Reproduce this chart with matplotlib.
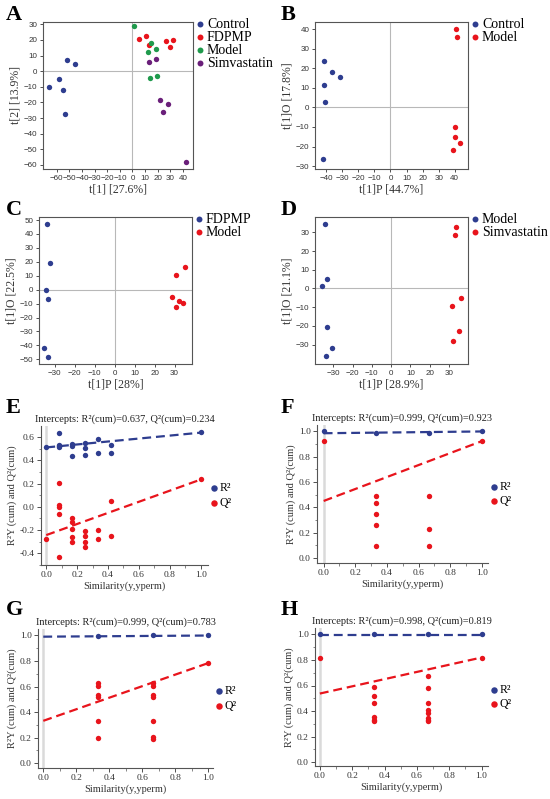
import matplotlib
matplotlib.use("Agg")
import matplotlib.pyplot as plt
from matplotlib.ticker import MultipleLocator, FormatStrFormatter

# ---- colours ----
BLUE = "#2e3d8f"
RED = "#e8141c"
GREEN = "#1f9a4c"
PURPLE = "#6a1f7a"

# ---- A: PCA ----
a_control_x = [-66, -58.4, -55.3, -51.8, -53.4, -45.8]
a_control_y = [-10.4, -4.7, -12.3, 7.0, -27.2, 4.5]
a_fdpmp_x = [5, 11, 12.9, 26.3, 32.4, 29.7]
a_fdpmp_y = [20.9, 22.6, 17, 19.4, 20, 15.5]
a_model_x = [1.1, 15, 12.6, 18.4, 13.9, 19.7]
a_model_y = [28.7, 18.3, 12.1, 14.3, -4.3, -3.2]
a_simva_x = [12.9, 18.7, 21.6, 27.9, 24.5, 42.4]
a_simva_y = [6.2, 7.7, -18.3, -21.1, -26.2, -58.3]

# ---- B: OPLS-DA Control vs Model ----
b_control_x = [-41.7, -36.7, -31.7, -41.7, -40.6, -42.3]
b_control_y = [24, 17.9, 15.8, 11.7, 2.6, -26.6]
b_model_x = [40.6, 41.3, 40.2, 40.2, 43.5, 39]
b_model_y = [40, 36.1, -10.2, -15.1, -18, -22]

# ---- C: FDPMP vs Model ----
c_fdpmp_x = [-33.7, -32.3, -34.5, -33.3, -35.5, -33.2]
c_fdpmp_y = [47.4, 19, 0, -6.7, -41.6, -48.1]
c_model_x = [35, 30.8, 28.7, 32.3, 34, 30.5]
c_model_y = [16.3, 10.6, -5.5, -7.9, -9.6, -12.7]

# ---- D: Model vs Simvastatin ----
d_model_x = [-34.3, -33.3, -35.7, -33.1, -30.8, -33.6]
d_model_y = [34.6, 5.2, 1.4, -20.4, -32.1, -36.3]
d_simva_x = [33.8, 33.3, 36.4, 31.7, 35.2, 32.2]
d_simva_y = [33, 28.6, -5, -9.6, -22.5, -28.2]

# ---- E-H: permutation tests ----
e_r2_x = [0, 0.083, 0.083, 0.083, 0.083, 0.167, 0.167, 0.167, 0.25, 0.25, 0.25, 0.333, 0.333, 0.417, 0.417, 1.0]
e_r2_y = [0.514, 0.63, 0.53, 0.52, 0.51, 0.537, 0.523, 0.437, 0.551, 0.503, 0.443, 0.58, 0.466, 0.534, 0.466, 0.64]
e_q2_x = [0, 0.083, 0.083, 0.083, 0.083, 0.083, 0.167, 0.167, 0.167, 0.167, 0.167,
          0.25, 0.25, 0.25, 0.25, 0.333, 0.333, 0.417, 0.417, 1.0]
e_q2_y = [-0.277, 0.206, 0.014, -0.003, -0.066, -0.434, -0.094, -0.129, -0.194, -0.257, -0.3,
          -0.211, -0.249, -0.303, -0.349, -0.203, -0.28, 0.049, -0.254, 0.237]
e_r2_line = [0.51, 0.637]
e_q2_line = [-0.243, 0.234]

f_r2_x = [0, 0.333, 0.667, 1.0]
f_r2_y = [1.0, 0.99, 0.99, 1.0]
f_q2_x = [0, 0.333, 0.333, 0.333, 0.333, 0.333, 0.667, 0.667, 0.667, 1.0]
f_q2_y = [0.926, 0.489, 0.432, 0.35, 0.258, 0.092, 0.489, 0.232, 0.092, 0.923]
f_r2_line = [0.985, 0.999]
f_q2_line = [0.45, 0.923]

g_r2_x = [0.333, 0.667, 1.0]
g_r2_y = [0.995, 1.0, 1.0]
g_q2_x = [0.333, 0.333, 0.333, 0.333, 0.333, 0.333, 0.667, 0.667, 0.667, 0.667, 0.667, 0.667, 0.667, 1.0]
g_q2_y = [0.629, 0.608, 0.533, 0.517, 0.334, 0.196, 0.629, 0.608, 0.533, 0.517, 0.334, 0.206, 0.193, 0.783]
g_r2_line = [0.99, 0.999]
g_q2_line = [0.332, 0.783]

h_r2_x = [0, 0.333, 0.667, 1.0]
h_r2_y = [1.0, 1.0, 1.0, 1.0]
h_q2_x = [0, 0.333, 0.333, 0.333, 0.333, 0.333, 0.333,
          0.667, 0.667, 0.667, 0.667, 0.667, 0.667, 0.667, 0.667, 1.0]
h_q2_y = [0.819, 0.587, 0.517, 0.465, 0.351, 0.333, 0.32,
          0.677, 0.584, 0.465, 0.408, 0.388, 0.349, 0.331, 0.32, 0.819]
h_r2_line = [0.998, 0.998]
h_q2_line = [0.537, 0.819]

SERIF = "Liberation Serif"
SANS = "Liberation Sans"
W, H = 550, 799

fig = plt.figure(figsize=(5.5, 7.99), dpi=100)


def box(l, r, t, b):
    return [l / W, 1 - b / H, (r - l) / W, (b - t) / H]


def letter(x, y, s):
    fig.text(x / W, 1 - y / H, s, fontsize=16, fontweight="bold", family=SERIF, va="center", ha="left")


def score_ax(rect, groups, xlim, ylim, xt, yt, xlabel, ylabel):
    ax = fig.add_axes(rect)
    ax.axhline(0, color="#b8b8b8", lw=0.8, zorder=0)
    ax.axvline(0, color="#b8b8b8", lw=0.8, zorder=0)
    for xs, ys, c, lab in groups:
        ax.scatter(xs, ys, s=15, color=c, label=lab, zorder=3, linewidths=0)
    ax.set_xlim(xlim)
    ax.set_ylim(ylim)
    ax.set_xticks(xt)
    ax.set_yticks(yt)
    for sp in ax.spines.values():
        sp.set_color("#555555")
        sp.set_linewidth(0.8)
    ax.tick_params(labelsize=5.8, length=2.5, width=0.6, pad=1.5, colors="#333333")
    for lb in ax.get_xticklabels() + ax.get_yticklabels():
        lb.set_family(SANS)
    ax.set_xlabel(xlabel, family=SERIF, fontsize=8.5, labelpad=1.5, color="#333333")
    ax.set_ylabel(ylabel, family=SERIF, fontsize=8.5, labelpad=2, color="#333333")
    ax.legend(loc="upper left", bbox_to_anchor=(1.0, 1.048), frameon=False,
              prop={"family": SERIF, "size": 10}, handletextpad=0.2, handlelength=0.6,
              labelspacing=0.0, borderaxespad=0.0, borderpad=0.2, markerscale=1.1)
    return ax


def perm_ax(rect, r2x, r2y, q2x, q2y, r2l, q2l, title, xlim, ylim, yt):
    ax = fig.add_axes(rect)
    ax.axvline(0, color="#dadada", lw=1.8, zorder=0)
    ax.plot([0, 1], r2l, ls=(0, (4, 2.2)), color=BLUE, lw=1.6, zorder=2)
    ax.plot([0, 1], q2l, ls=(0, (4, 2.2)), color=RED, lw=1.6, zorder=2)
    ax.scatter(r2x, r2y, s=15, color=BLUE, label="R\u00b2", zorder=3, linewidths=0)
    ax.scatter(q2x, q2y, s=15, color=RED, label="Q\u00b2", zorder=3, linewidths=0)
    ax.set_xlim(xlim)
    ax.set_ylim(ylim)
    ax.set_xticks([0, 0.2, 0.4, 0.6, 0.8, 1.0])
    ax.xaxis.set_minor_locator(MultipleLocator(0.1))
    ax.set_yticks(yt)
    ax.yaxis.set_minor_locator(MultipleLocator(0.1))
    ax.yaxis.set_major_formatter(FormatStrFormatter("%.1f"))
    ax.xaxis.set_major_formatter(FormatStrFormatter("%.1f"))
    ax.spines["top"].set_visible(False)
    ax.spines["right"].set_visible(False)
    for sp in ("left", "bottom"):
        ax.spines[sp].set_color("#555555")
        ax.spines[sp].set_linewidth(0.8)
    ax.tick_params(which="major", labelsize=6.8, length=3, width=0.6, pad=1.5, colors="#333333")
    ax.tick_params(which="minor", length=1.8, width=0.5, colors="#555555")
    for lb in ax.get_xticklabels() + ax.get_yticklabels():
        lb.set_family(SERIF)
    ax.set_xlabel("Similarity(y,yperm)", family=SERIF, fontsize=7.5, labelpad=1.5, color="#333333")
    ax.set_ylabel("R\u00b2Y (cum) and Q\u00b2(cum)", family=SERIF, fontsize=7.5, labelpad=2, color="#333333")
    ax.set_title(title, family=SERIF, fontsize=7.5, pad=3, color="#222222")
    ax.legend(loc="center left", bbox_to_anchor=(1.0, 0.5), frameon=False,
              prop={"family": SERIF, "size": 8.5}, handletextpad=0.2, handlelength=0.6,
              labelspacing=0.2, borderaxespad=0.0, borderpad=0.2, markerscale=1.2)
    return ax


# A
score_ax(box(43, 193, 22, 169),
         [(a_control_x, a_control_y, BLUE, "Control"),
          (a_fdpmp_x, a_fdpmp_y, RED, "FDPMP"),
          (a_model_x, a_model_y, GREEN, "Model"),
          (a_simva_x, a_simva_y, PURPLE, "Simvastatin")],
         (-71, 48), (-62.6, 31.5), list(range(-60, 41, 10)), list(range(-60, 31, 10)),
         "t[1] [27.6%]", "t[2] [13.9%]")
letter(6, 15, "A")

# B
score_ax(box(315, 468, 22, 169),
         [(b_control_x, b_control_y, BLUE, "Control"),
          (b_model_x, b_model_y, RED, "Model")],
         (-47, 48.3), (-31.5, 43.7), list(range(-40, 41, 10)), list(range(-30, 41, 10)),
         "t[1]P [44.7%]", "t[1]O [17.8%]")
letter(281, 15, "B")

# C
score_ax(box(39, 192, 217, 364),
         [(c_fdpmp_x, c_fdpmp_y, BLUE, "FDPMP"),
          (c_model_x, c_model_y, RED, "Model")],
         (-37.8, 38.7), (-53.4, 52.2), list(range(-30, 31, 10)), list(range(-50, 51, 10)),
         "t[1]P [28%]", "t[1]O [22.5%]")
letter(6, 210, "C")

# D
score_ax(box(315, 468, 217, 364),
         [(d_model_x, d_model_y, BLUE, "Model"),
          (d_simva_x, d_simva_y, RED, "Simvastatin")],
         (-39.5, 39.9), (-40.4, 38.2), list(range(-30, 31, 10)), list(range(-30, 31, 10)),
         "t[1]P [28.9%]", "t[1]O [21.1%]")
letter(281, 210, "D")

# E
perm_ax(box(41, 208, 426, 565), e_r2_x, e_r2_y, e_q2_x, e_q2_y, e_r2_line, e_q2_line,
        "Intercepts: R\u00b2(cum)=0.637, Q\u00b2(cum)=0.234",
        (-0.034, 1.047), (-0.5, 0.694), [-0.4, -0.2, 0.0, 0.2, 0.4, 0.6])
letter(6, 408, "E")

# F
perm_ax(box(317, 488, 425, 563), f_r2_x, f_r2_y, f_q2_x, f_q2_y, f_r2_line, f_q2_line,
        "Intercepts: R\u00b2(cum)=0.999, Q\u00b2(cum)=0.923",
        (-0.042, 1.038), (-0.04, 1.05), [0.0, 0.2, 0.4, 0.6, 0.8, 1.0])
letter(281, 408, "F")

# G
perm_ax(box(38, 213, 629, 768), g_r2_x, g_r2_y, g_q2_x, g_q2_y, g_r2_line, g_q2_line,
        "Intercepts: R\u00b2(cum)=0.999, Q\u00b2(cum)=0.783",
        (-0.032, 1.03), (-0.037, 1.05), [0.0, 0.2, 0.4, 0.6, 0.8, 1.0])
letter(6, 610, "G")

# H
perm_ax(box(315, 488, 628, 766), h_r2_x, h_r2_y, h_q2_x, h_q2_y, h_r2_line, h_q2_line,
        "Intercepts: R\u00b2(cum)=0.998, Q\u00b2(cum)=0.819",
        (-0.03, 1.04), (-0.03, 1.05), [0.0, 0.2, 0.4, 0.6, 0.8, 1.0])
letter(281, 610, "H")

fig.savefig("out.png", dpi=100)
